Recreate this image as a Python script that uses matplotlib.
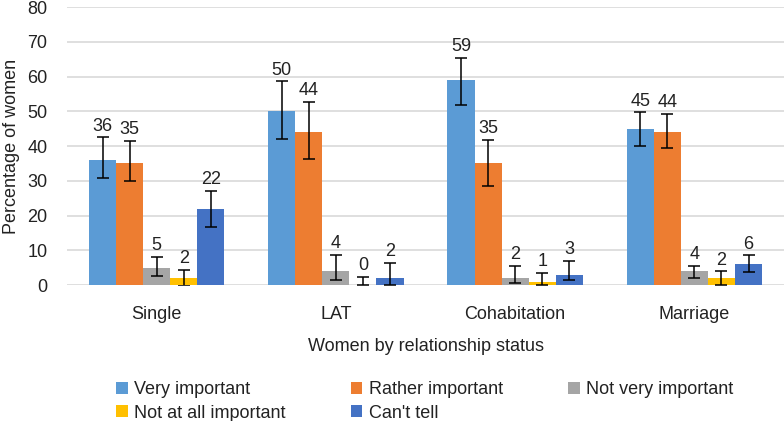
import numpy as np
import matplotlib.pyplot as plt

plt.rcParams["font.family"] = ["Liberation Sans", "DejaVu Sans"]

groups = ["Single", "LAT", "Cohabitation", "Marriage"]
series = ["Very important", "Rather important", "Not very important",
          "Not at all important", "Can't tell"]
colors = ["#5B9BD5", "#ED7D31", "#A5A5A5", "#FFC000", "#4472C4"]

# rows = series, columns = groups
values = np.array([[36, 50, 59, 45],
                   [35, 44, 35, 44],
                   [5, 4, 2, 4],
                   [2, 0, 1, 2],
                   [22, 2, 3, 6]])
err_low = np.array([[5.2, 7.9, 7.2, 5.1],
                    [5.1, 7.7, 6.5, 4.5],
                    [2.4, 2.6, 1.3, 2.1],
                    [2.3, 0.0, 1.0, 2.0],
                    [5.2, 2.0, 1.6, 2.2]])
err_high = np.array([[6.5, 8.6, 6.5, 4.7],
                     [6.5, 8.7, 6.8, 5.2],
                     [3.1, 4.7, 3.6, 1.6],
                     [2.3, 2.4, 2.6, 1.9],
                     [5.0, 4.3, 3.9, 2.5]])

txt = "#222222"
fig = plt.figure(figsize=(7.84, 4.21), dpi=100)
ax = fig.add_axes([0.0855, 0.323, 0.9145, 0.660])

x = np.arange(len(groups))
w = 0.151
for i in range(len(series)):
    pos = x + (i - 2) * w
    ax.bar(pos, values[i], w, color=colors[i], label=series[i], zorder=2)
    ax.errorbar(pos, values[i], yerr=[err_low[i], err_high[i]], fmt="none",
                ecolor="black", elinewidth=1.1, capsize=4, capthick=1.1, zorder=3)
    for xp, v, eh in zip(pos, values[i], err_high[i]):
        ax.annotate(str(v), (xp, v + eh), xytext=(0, 2), textcoords="offset points",
                    ha="center", va="bottom", fontsize=13, color=txt)

ax.set_xlim(-0.5, 3.5)
ax.set_ylim(0, 80)
ax.set_yticks(range(0, 81, 10))
ax.set_xticks(x)
ax.set_xticklabels(groups)
ax.tick_params(axis="both", length=0, labelsize=13, colors=txt)
ax.tick_params(axis="x", pad=15)
ax.tick_params(axis="y", pad=14)
ax.yaxis.grid(True, color="#D9D9D9", linewidth=1.2, zorder=0)
for s in ax.spines.values():
    s.set_visible(False)
ax.set_ylabel("Percentage of women", fontsize=13, color=txt, labelpad=5)
ax.set_xlabel("Women by relationship status", fontsize=13, color=txt, labelpad=11)

h, l = ax.get_legend_handles_labels()
order = [0, 3, 1, 4, 2]
leg = fig.legend([h[k] for k in order], [l[k] for k in order], ncol=3,
                 loc="upper left", bbox_to_anchor=(0.1365, 0.116), frameon=False,
                 borderpad=0, fontsize=13, handlelength=0.65, handleheight=0.65,
                 handletextpad=0.35, columnspacing=3.6, labelspacing=0.35)
for t in leg.get_texts():
    t.set_color(txt)

fig.savefig("out.png", dpi=100)
